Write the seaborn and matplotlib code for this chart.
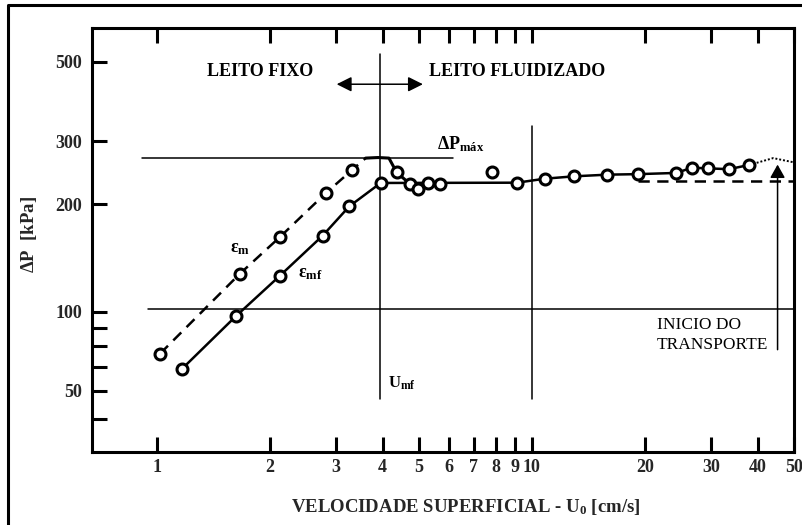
import matplotlib
matplotlib.use("Agg")
import matplotlib.pyplot as plt
import seaborn as sns
import pandas as pd
from matplotlib.lines import Line2D
from matplotlib.ticker import NullLocator

# ---------------------------------------------------------------------------
# Data: pressure drop (kPa) versus superficial velocity U0 (cm/s)
# ---------------------------------------------------------------------------
# fixed bed, voidage eps_m (dashed)
em_u = [1.019, 1.665, 2.128, 2.823, 3.306]
em_dp = [76.3, 127.8, 161.8, 214.9, 248.6]

# fixed bed, voidage eps_mf (solid), last point at U_mf
emf_u = [1.168, 1.621, 2.128, 2.766, 3.257, 3.95]
emf_dp = [69.3, 97.0, 126.1, 163.2, 197.1, 229.2]

# overshoot around the maximum pressure drop
hump_u = [3.602, 3.885, 4.156, 4.357, 4.727, 4.976, 5.291, 5.684]
hump_dp = [269.0, 270.0, 269.0, 245.4, 227.8, 220.5, 229.2, 228.2]

# fluidized bed line (solid) and its end towards transport (dotted)
fl_u = [3.95, 9.12, 10.83, 12.94, 15.9, 19.17, 24.28, 26.71, 29.47, 33.52, 37.97]
fl_dp = [229.2, 229.6, 235.6, 239.2, 241.8, 242.6, 244.5, 252.9, 251.8, 250.5, 257.4]
tail_u = [37.97, 44.0, 50.0]
tail_dp = [257.4, 269.0, 261.7]

# constant fluidized level (dashed)
flat_u = [19.2, 50.0]
flat_dp = [231.6, 231.6]

# measured points in the fluidized region
pts_u = [4.357, 4.727, 4.976, 5.291, 5.684, 7.823, 9.12, 10.83, 12.94, 15.9,
         19.17, 24.28, 26.71, 29.47, 33.52, 37.97]
pts_dp = [245.4, 227.8, 220.5, 229.2, 228.2, 246.0, 229.6, 235.6, 239.2, 241.8,
          242.6, 244.5, 252.9, 251.8, 250.5, 257.4]

# reference levels / velocities
dp_max = 269.0
dp_ref = 102.0
u_mf = 3.93
u_ten = 10.0
u_transport = 45.2

# axis ticks
xtick_vals = [1, 2, 3, 4, 5, 6, 7, 8, 9, 10, 20, 30, 40, 50]
xtick_labels = ["1", "2", "3", "4", "5", "6", "7", "8", "9", "10", "20", "30", "40", "50"]
ytick_vals = [500, 300, 200, 100, 90, 80, 70, 60, 50]
ytick_labels = ["500", "300", "200", "100", "", "", "", "50", ""]

# ---------------------------------------------------------------------------
sns.set_theme(style="white")
plt.rcParams.update({
    "font.family": ["Liberation Serif", "DejaVu Serif"],
    "font.weight": "bold",
    "axes.labelweight": "bold",
    "mathtext.fontset": "custom",
    "mathtext.rm": "Liberation Serif:bold",
    "mathtext.it": "Liberation Serif:bold",
    "mathtext.bf": "Liberation Serif:bold",
    "axes.edgecolor": "black",
    "text.color": "black",
})

fig = plt.figure(figsize=(8.02, 5.25), dpi=100)
fig.patch.set_facecolor("white")
ax = fig.add_axes([92 / 802, 1 - 452 / 525, (794 - 92) / 802, (452 - 28) / 525])
ax.set_xscale("log")
ax.set_yscale("log")
ax.set_xlim(0.671, 50)
ax.set_ylim(40.5, 622)

# outer frame of the figure
fig.add_artist(Line2D([8 / 802, 8 / 802, 1.0], [0.0, 1 - 5 / 525, 1 - 5 / 525],
                      transform=fig.transFigure, color="black", lw=2.2))

thin = dict(color="black", lw=1.1)

# reference lines
ax.plot([0.91, 6.16], [dp_max, dp_max], **thin)
ax.plot([0.944, 50], [dp_ref, dp_ref], **thin)
ax.plot([u_mf, u_mf], [56.8, 527], **thin)
ax.plot([u_ten, u_ten], [56.8, 331], **thin)

# curves
sns.lineplot(x=em_u + [hump_u[0]], y=em_dp + [hump_dp[0]], ax=ax, color="black",
             lw=1.8, linestyle=(0, (4.5, 3)), sort=False, estimator=None)
sns.lineplot(x=emf_u, y=emf_dp, ax=ax, color="black", lw=1.8,
             sort=False, estimator=None)
sns.lineplot(x=hump_u, y=hump_dp, ax=ax, color="black", lw=2.2,
             sort=False, estimator=None)
sns.lineplot(x=fl_u, y=fl_dp, ax=ax, color="black", lw=1.8,
             sort=False, estimator=None)
sns.lineplot(x=tail_u, y=tail_dp, ax=ax, color="black", lw=1.4,
             linestyle=(0, (1, 1)), sort=False, estimator=None)
sns.lineplot(x=flat_u, y=flat_dp, ax=ax, color="black", lw=1.8,
             linestyle=(0, (4.5, 3)), sort=False, estimator=None)

# measured points as open circles
marker_kw = dict(ax=ax, s=62, color="white", edgecolor="black", linewidth=2.2,
                 zorder=5, legend=False)
sns.scatterplot(x=em_u, y=em_dp, **marker_kw)
sns.scatterplot(x=emf_u, y=emf_dp, **marker_kw)
sns.scatterplot(x=pts_u, y=pts_dp, **marker_kw)

# arrows
ax.annotate("", xy=(5.12, 433), xytext=(3.015, 433),
            arrowprops=dict(arrowstyle="<|-|>,head_length=0.9,head_width=0.45",
                            color="black", lw=1.1, shrinkA=0, shrinkB=0,
                            mutation_scale=10))
ax.annotate("", xy=(u_transport, 258), xytext=(u_transport, 78.3),
            arrowprops=dict(arrowstyle="-|>,head_length=0.8,head_width=0.45",
                            color="black", lw=1.1, shrinkA=0, shrinkB=0,
                            mutation_scale=10))

# annotations
ax.text(1.888, 469.6, "LEITO FIXO", ha="center", va="center", fontsize=13)
ax.text(9.15, 469.6, "LEITO FLUIDIZADO", ha="center", va="center", fontsize=13)
ax.text(5.58, 284, r"$\Delta$P$_{\mathrm{máx}}$", ha="left", va="baseline", fontsize=13)
ax.text(1.565, 147, r"$ε_{\mathrm{m}}$", ha="left", va="baseline", fontsize=13)
ax.text(2.381, 124.5, r"$ε_{\mathrm{mf}}$", ha="left", va="baseline", fontsize=13)
ax.text(4.13, 61.3, r"U$_{\mathrm{mf}}$", ha="left", va="baseline", fontsize=12)
ax.text(21.5, 91.5, "INICIO DO", ha="left", va="center", fontsize=12.5,
        fontweight="normal")
ax.text(21.5, 80.9, "TRANSPORTE", ha="left", va="center", fontsize=12.5,
        fontweight="normal")

# axes styling
ax.set_xticks(xtick_vals)
ax.set_xticklabels(xtick_labels)
ax.set_yticks(ytick_vals)
ax.set_yticklabels(ytick_labels)
ax.xaxis.set_minor_locator(NullLocator())
ax.yaxis.set_minor_locator(NullLocator())
ax.tick_params(axis="x", which="major", direction="in", length=11, width=2.2,
               top=True, bottom=True, pad=5, labelsize=13, color="black")
ax.tick_params(axis="y", which="major", direction="in", length=11, width=2.2,
               left=True, right=False, pad=7, labelsize=13, color="black")
for sp in ax.spines.values():
    sp.set_linewidth(2.2)
    sp.set_color("black")

ax.set_xlabel(r"VELOCIDADE SUPERFICIAL - U$_{0}$ [cm/s]", fontsize=13.5,
              fontweight="bold")
ax.set_ylabel(r"$\Delta$P  [kPa]", fontsize=13.5, fontweight="bold")
ax.xaxis.set_label_coords(0.533, -0.106)
ax.yaxis.set_label_coords(-0.076, 0.514)

fig.savefig("out.png", dpi=100)
